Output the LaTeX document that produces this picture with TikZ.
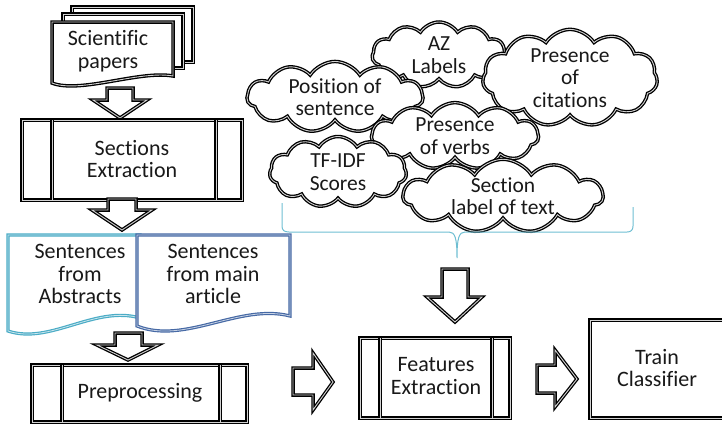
\documentclass[tikz,border=0pt]{standalone}
\usepackage{fontspec}
\setmainfont[Ligatures=NoCommon]{Carlito}
\usetikzlibrary{shapes.symbols}
\definecolor{tealA}{RGB}{75,172,198}
\definecolor{blueA}{RGB}{70,105,165}
\definecolor{braceC}{RGB}{110,190,210}
\tikzset{
  dbl/.style={draw=black, line width=1.3pt, double=gray!35, double distance=0.9pt, fill=white, line join=miter},
  txt/.style={align=center, font=\fontsize{22}{22.5}\selectfont, text=black!90, inner sep=0},
  cl/.style={cloud, cloud ignores aspect, cloud puffs=11, cloud puff arc=115, draw=black, line width=1.3pt, double=gray!35, double distance=0.9pt, fill=white, inner sep=0, align=center, font=\fontsize{21.5}{22.5}\selectfont, text=black!90},
}
\begin{document}
\begin{tikzpicture}[x=1pt,y=-1pt]
\useasboundingbox (0,0) rectangle (722,424);

% Scientific papers (multi-document)
\draw[dbl] (72,7) rectangle (193,62);
\draw[dbl] (63,14) rectangle (183,68);
\draw[dbl] (52,22) -- (173,22) -- (173,76) .. controls (140,70) and (80,94) .. (52,83) -- cycle;
\node[txt] (pap) at (108,51) {Scientific\\papers};

% arrow papers -> sections
\draw[dbl] (107,88) -- (133,88) -- (133,100) -- (147,100) -- (120,118) -- (93,100) -- (107,100) -- cycle;

% Sections extraction
\draw[dbl] (22,120) rectangle (242,200);
\draw[dbl] (52,120) -- (52,200);
\draw[dbl] (216,120) -- (216,200);
\node[txt] (sec) at (132,159) {Sections\\Extraction};

% arrow sections -> sentences
\draw[dbl] (108,199) -- (136,199) -- (136,210) -- (152,210) -- (122,230) -- (92,210) -- (108,210) -- cycle;

% Sentences documents
\draw[draw=tealA, line width=1.2pt, double=tealA!30, double distance=0.8pt, fill=white]
  (8,235) -- (140,235) -- (140,318) .. controls (95,305) and (50,345) .. (8,331) -- cycle;
\node[txt] (abs) at (80,274) {Sentences\\from\\Abstracts};
\draw[draw=blueA, line width=1.2pt, double=blueA!30, double distance=0.8pt, fill=white]
  (137,235) -- (290,235) -- (290,316) .. controls (240,303) and (185,345) .. (137,326) -- cycle;
\node[txt] (art) at (213,274) {Sentences\\from main\\article};

% arrow docs -> preprocessing
\draw[dbl] (115,333) -- (142,333) -- (142,345) -- (158,345) -- (128,360) -- (97,345) -- (115,345) -- cycle;

% Preprocessing
\draw[dbl] (32,365) rectangle (247,422);
\draw[dbl] (62,365) -- (62,422);
\draw[dbl] (220,365) -- (220,422);
\node[txt] (pre) at (140,393) {Preprocessing};

% arrow preprocessing -> features
\draw[dbl] (293,368) -- (313,368) -- (313,353) -- (333,382) -- (313,410) -- (313,395) -- (293,395) -- cycle;

% Features extraction
\draw[dbl] (360,338) rectangle (510,418);
\draw[dbl] (380,338) -- (380,418);
\draw[dbl] (492,338) -- (492,418);
\node[txt] (fea) at (436,376) {Features\\Extraction};

% arrow brace -> features
\draw[dbl] (442,269) -- (468,269) -- (468,297) -- (482,297) -- (455,322) -- (427,297) -- (442,297) -- cycle;

% arrow features -> train
\draw[dbl] (537,365) -- (555,365) -- (555,350) -- (577,379) -- (555,407) -- (555,393) -- (537,393) -- cycle;

% Train classifier
\draw[dbl] (590,320) rectangle (735,418);
\node[txt] (trn) at (657,368) {Train\\Classifier};

% Clouds
\node[cl, minimum width=134pt, minimum height=66pt] (az) at (439,55) {AZ\\Labels};
\node[cl, minimum width=176pt, minimum height=70pt] (pos) at (335,97) {Position of\\sentence};
\node[cl, minimum width=175pt, minimum height=93pt] (cit) at (570,78) {Presence\\of\\citations};
\node[cl, minimum width=167pt, minimum height=60pt] (verb) at (455,136) {Presence\\of verbs};
\node[cl, minimum width=137pt, minimum height=71pt] (tf) at (338,172) {TF-IDF\\Scores};
\node[cl, minimum width=200pt, minimum height=67pt] (secl) at (503,196) {Section\\label of text};

% Brace
\draw[braceC, line width=1pt]
  (282,203) -- (282,226) .. controls (282,230) and (284,232) .. (289,232) -- (449,232)
  .. controls (455,232) and (457,238) .. (457,258)
  .. controls (457,238) and (459,232) .. (465,232) -- (627,232)
  .. controls (631,232) and (633,230) .. (633,226) -- (633,207);
\coordinate (bp) at (457,258);
\end{tikzpicture}
\end{document}
